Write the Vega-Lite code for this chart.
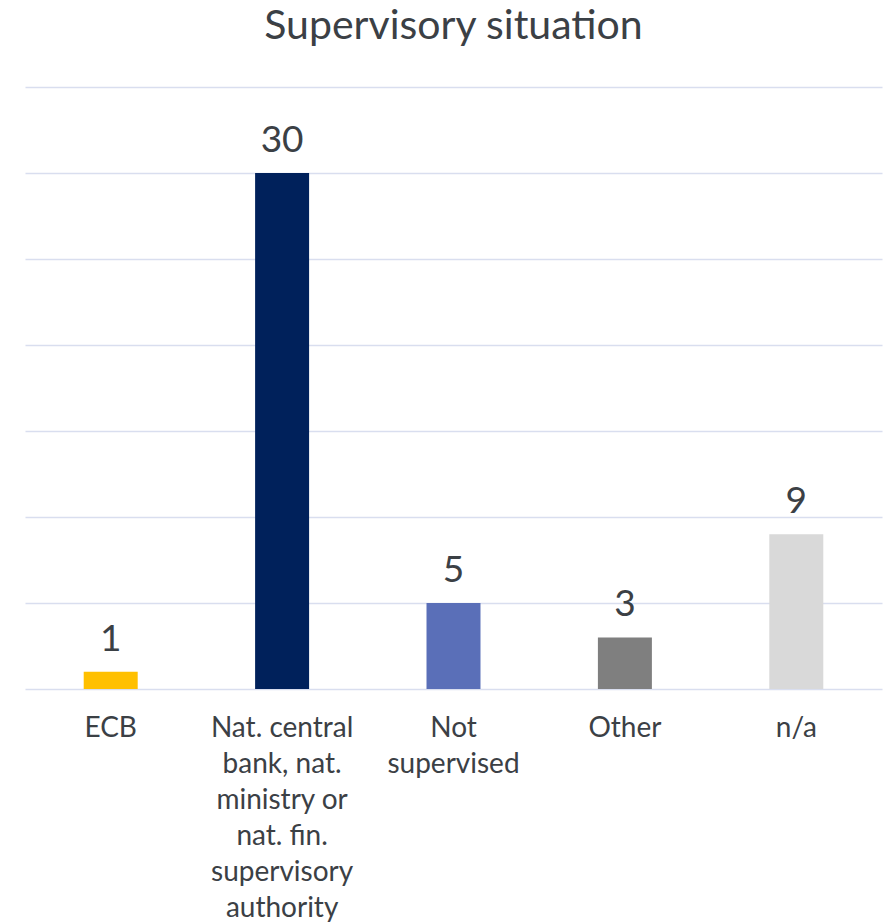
{
  "$schema": "https://vega.github.io/schema/vega-lite/v6.json",
  "width": 857,
  "height": 602,
  "autosize": {"type": "none"},
  "padding": {"left": 25, "top": 87, "right": 10, "bottom": 233},
  "background": "white",
  "title": {
    "text": "Supervisory situation",
    "font": "Lato",
    "fontSize": 41,
    "fontWeight": "normal",
    "color": "#3b4045",
    "anchor": "middle",
    "frame": "group",
    "baseline": "alphabetic",
    "offset": 7
  },
  "data": {
    "values": [
      {"category": "ECB", "count": 1},
      {"category": "Nat. central bank, nat. ministry or nat. fin. supervisory authority", "count": 30},
      {"category": "Not supervised", "count": 5},
      {"category": "Other", "count": 3},
      {"category": "n/a", "count": 9}
    ]
  },
  "encoding": {
    "x": {
      "field": "category",
      "type": "nominal",
      "sort": null,
      "scale": {"paddingInner": 0, "paddingOuter": 0},
      "axis": {
        "title": null,
        "domain": false,
        "ticks": false,
        "labelAngle": 0,
        "labelFont": "Lato",
        "labelFontSize": 28,
        "labelColor": "#3b4045",
        "labelLineHeight": 36,
        "labelPadding": 25,
        "labelLimit": 0,
        "labelExpr": "datum.value == 'Not supervised' ? ['Not', 'supervised'] : (indexof(datum.value, 'Nat. central') == 0 ? ['Nat. central', 'bank, nat.', 'ministry or', 'nat. fin.', 'supervisory', 'authority'] : datum.value)"
      }
    },
    "y": {
      "field": "count",
      "type": "quantitative",
      "scale": {"domain": [0, 35], "nice": false},
      "axis": {
        "title": null,
        "domain": false,
        "ticks": false,
        "labels": false,
        "values": [0, 5, 10, 15, 20, 25, 30, 35],
        "grid": true,
        "gridColor": "#d9deef",
        "gridWidth": 1.5
      }
    }
  },
  "layer": [
    {
      "mark": {"type": "bar", "width": {"band": 0.315}},
      "encoding": {
        "color": {
          "field": "category",
          "type": "nominal",
          "legend": null,
          "scale": {
            "domain": ["ECB", "Nat. central bank, nat. ministry or nat. fin. supervisory authority", "Not supervised", "Other", "n/a"],
            "range": ["#ffc000", "#00215b", "#5a6fb8", "#7f7f7f", "#d9d9d9"]
          }
        }
      }
    },
    {
      "mark": {"type": "text", "font": "Lato", "fontSize": 37, "color": "#3b4045", "baseline": "alphabetic", "dy": -21},
      "encoding": {"text": {"field": "count", "type": "quantitative"}}
    }
  ],
  "config": {"view": {"stroke": null}}
}
